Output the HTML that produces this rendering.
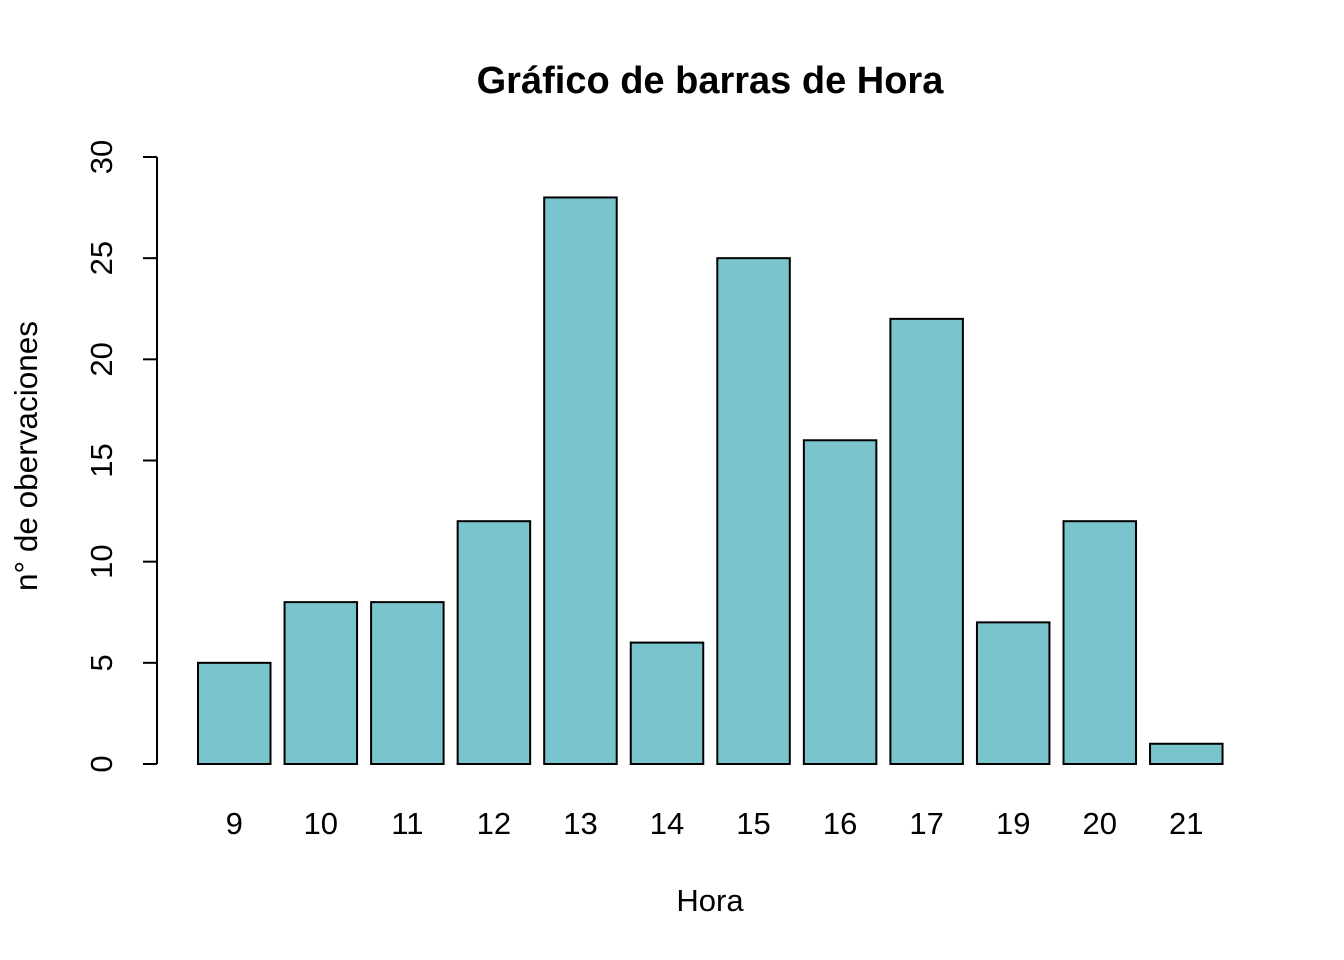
<!DOCTYPE html>
<html><head><meta charset="utf-8"><style>
html,body{margin:0;padding:0;background:#fff;}
svg{display:block;font-family:"Liberation Sans",Arial,sans-serif;}
</style></head><body>
<svg id="chart" width="1344" height="960">
<text x="710" y="93" text-anchor="middle" font-size="38" font-weight="bold">Gráfico de barras de Hora</text>
<text x="710" y="911" text-anchor="middle" font-size="31">Hora</text>
<text transform="translate(37,456) rotate(-90)" text-anchor="middle" font-size="31.5">n° de obervaciones</text>
<g id="bars"></g><g id="yaxis"></g><g id="xlabels"></g>
</svg>
<script>
const categories = ["9","10","11","12","13","14","15","16","17","19","20","21"];
const counts = [5,8,8,12,28,6,25,16,22,7,12,1];
const yTicks = [0,5,10,15,20,25,30];
const NS="http://www.w3.org/2000/svg";
const y0=764, yTop=157, yMax=30;
function yScale(v){return y0-(v/yMax)*(y0-yTop);}
const x0=198, pitch=86.55, bw=72.5;
function xScale(i){return x0+i*pitch;}
const bars=document.getElementById('bars'), xl=document.getElementById('xlabels'), ya=document.getElementById('yaxis');
counts.forEach((v,i)=>{
  const r=document.createElementNS(NS,'rect');
  
  
  r.setAttribute('x',xScale(i));r.setAttribute('y',yScale(v));
  r.setAttribute('width',bw);r.setAttribute('height',y0-yScale(v));
  r.setAttribute('fill','#7AC5CD');r.setAttribute('stroke','#000');r.setAttribute('stroke-width','2');
  bars.appendChild(r);
  const t=document.createElementNS(NS,'text');
  
  
  t.setAttribute('x',xScale(i)+bw/2);t.setAttribute('y',834);
  t.setAttribute('text-anchor','middle');t.setAttribute('font-size','31');
  t.textContent=categories[i];xl.appendChild(t);
});
const ax=document.createElementNS(NS,'line');


ax.setAttribute('x1',157);ax.setAttribute('x2',157);ax.setAttribute('y1',yScale(yTicks[0]));ax.setAttribute('y2',yScale(yTicks[yTicks.length-1]));
ax.setAttribute('stroke','#000');ax.setAttribute('stroke-width','2');ya.appendChild(ax);
yTicks.forEach(v=>{
  const l=document.createElementNS(NS,'line');
  
  
  l.setAttribute('x1',143);l.setAttribute('x2',157);l.setAttribute('y1',yScale(v));l.setAttribute('y2',yScale(v));
  l.setAttribute('stroke','#000');l.setAttribute('stroke-width','2');ya.appendChild(l);
  const t=document.createElementNS(NS,'text');
  
  
  t.setAttribute('transform','translate(112,'+yScale(v)+') rotate(-90)');
  t.setAttribute('text-anchor','middle');t.setAttribute('font-size','31');
  t.textContent=v;ya.appendChild(t);
});
</script>
</body></html>
